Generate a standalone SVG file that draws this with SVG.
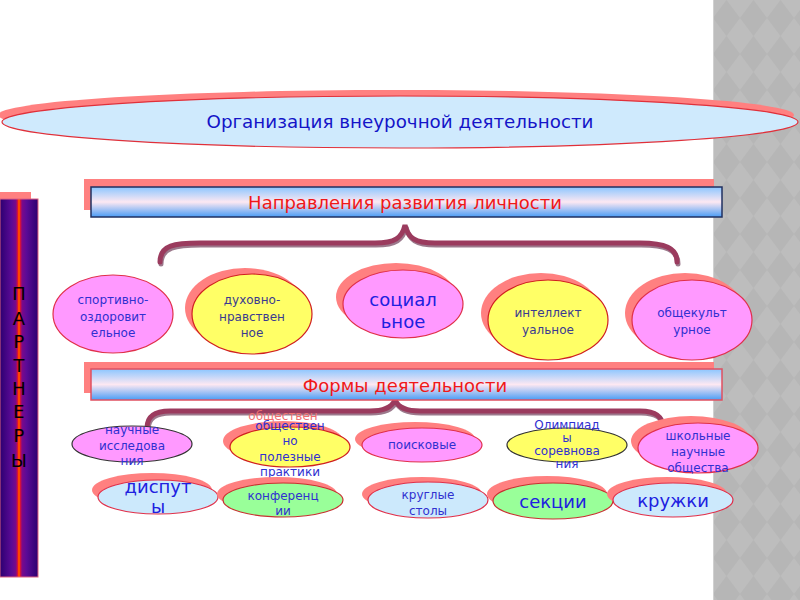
<svg xmlns="http://www.w3.org/2000/svg" width="800" height="600" viewBox="0 0 800 600">
<style>
.sh{fill:#ff8080}
.pk{fill:#ff99ff;stroke:#e0304a;stroke-width:1.2}
.pkd{fill:#ff99ff;stroke:#333;stroke-width:1.2}
.yl{fill:#ffff66;stroke:#d02020;stroke-width:1.2}
.yld{fill:#ffff66;stroke:#333;stroke-width:1.2}
.lb{fill:#cce9fc;stroke:#e0304a;stroke-width:1.2}
.gr{fill:#99ff99;stroke:#c83030;stroke-width:1.2}
text{font-family:"DejaVu Sans","Liberation Sans",sans-serif;text-anchor:middle}
.t{font-size:12px;fill:#3030d0}
.td{font-size:12px;fill:#3a3a90}
.tb{font-size:18px;fill:#2020e0}
.hd{font-size:18px;fill:#f01818}
.brace{fill:none;stroke:#9b3b5e;stroke-width:5;stroke-linecap:round}
.braceS{fill:none;stroke:#5a2040;stroke-width:5;stroke-linecap:round;opacity:0.6}
</style>
<defs>
<pattern id="harl" x="713" y="0" width="27" height="36" patternUnits="userSpaceOnUse">
<rect width="27" height="36" fill="#bdbdbd"/>
<polygon points="13.5,0 27,18 13.5,36 0,18" fill="#b6b6b6"/>
</pattern>
<linearGradient id="hg" x1="0" y1="0" x2="0" y2="1">
<stop offset="0" stop-color="#8cc6ff"/>
<stop offset="0.5" stop-color="#fde8f2"/>
<stop offset="1" stop-color="#4a9cf5"/>
</linearGradient>
<linearGradient id="bar" x1="0" y1="0" x2="1" y2="0">
<stop offset="0" stop-color="#2c0070"/>
<stop offset="0.3" stop-color="#5a0a96"/>
<stop offset="0.42" stop-color="#7a0a8a"/>
<stop offset="0.46" stop-color="#d01040"/>
<stop offset="0.48" stop-color="#ff2a00"/>
<stop offset="0.5" stop-color="#ff7a00"/>
<stop offset="0.52" stop-color="#ff2a00"/>
<stop offset="0.54" stop-color="#d01040"/>
<stop offset="0.58" stop-color="#7a0a8a"/>
<stop offset="0.7" stop-color="#5a0a96"/>
<stop offset="1" stop-color="#2c0070"/>
</linearGradient>
</defs>

<rect width="800" height="600" fill="#ffffff"/>
<rect x="713" y="0" width="87" height="600" fill="url(#harl)"/>
<line x1="713.5" y1="0" x2="713.5" y2="600" stroke="#d0d0d0" stroke-width="1"/>

<g id="title">
<ellipse class="sh" cx="396" cy="115" rx="398" ry="25"/>
<ellipse cx="400" cy="122" rx="398" ry="26" fill="#cfeafd" stroke="#e0303a" stroke-width="1.2"/>
<text x="400" y="128" font-size="18" fill="#1414c8" textLength="387" lengthAdjust="spacingAndGlyphs">Организация внеурочной деятельности</text>
</g>

<g id="partners">
<rect x="0" y="192" width="31" height="10" fill="#ff8080"/>
<rect x="0" y="199" width="38" height="378" fill="url(#bar)" stroke="#e06080" stroke-width="1"/>
<g font-size="18" fill="#000">
<text x="19" y="300">П</text>
<text x="19" y="325">А</text>
<text x="19" y="348">Р</text>
<text x="19" y="372">Т</text>
<text x="19" y="395">Н</text>
<text x="19" y="418">Е</text>
<text x="19" y="442">Р</text>
<text x="19" y="467">Ы</text>
</g>
</g>

<g id="connectors">
<path class="braceS" d="M161,264 C161,247 176,245 201,245 L376,245 C396,245 403,240 406,227 C409,240 416,245 436,245 L641,245 C666,245 678,250 678,264"/>
<path class="brace" d="M160,262 C160,245 175,243 200,243 L375,243 C395,243 402,238 405,225 C408,238 415,243 435,243 L640,243 C665,243 677,248 677,262"/>
<path class="braceS" d="M148,430 C148,418 156,413 171,413 L371,413 C386,413 393,409 396,402 C399,409 406,413 421,413 L641,413 C656,413 664,418 664,430"/>
<path class="brace" d="M147,428 C147,416 155,411 170,411 L370,411 C385,411 392,407 395,400 C398,407 405,411 420,411 L640,411 C655,411 663,416 663,428"/>
</g>

<g id="header1">
<rect x="84" y="179" width="630" height="31" fill="#ff8080"/>
<rect x="91" y="187" width="631" height="30" fill="url(#hg)" stroke="#203060" stroke-width="1.5"/>
<text class="hd" x="405" y="209">Направления развития личности</text>
</g>

<g id="header2">
<rect x="84" y="362" width="630" height="31" fill="#ff8080"/>
<rect x="91" y="369" width="631" height="31" fill="url(#hg)" stroke="#e05060" stroke-width="1.5"/>
<text class="hd" x="405" y="392" font-size="19">Формы деятельности</text>
</g>

<g id="n-sport">
<ellipse class="pk" cx="113" cy="314" rx="60" ry="39"/>
<text class="t" x="113" y="304">спортивно-</text>
<text class="t" x="113" y="321">оздоровит</text>
<text class="t" x="113" y="337">ельное</text>
</g>
<g id="n-duh">
<ellipse class="sh" cx="245" cy="308" rx="60" ry="40"/>
<ellipse class="yl" cx="252" cy="314" rx="60" ry="40"/>
<text class="td" x="252" y="304">духовно-</text>
<text class="td" x="252" y="321">нравствен</text>
<text class="td" x="252" y="337">ное</text>
</g>
<g id="n-soc">
<ellipse class="sh" cx="396" cy="297" rx="60" ry="34"/>
<ellipse class="pk" cx="403" cy="304" rx="60" ry="34"/>
<text class="tb" x="403" y="306">социал</text>
<text class="tb" x="403" y="328">ьное</text>
</g>
<g id="n-int">
<ellipse class="sh" cx="541" cy="313" rx="60" ry="40"/>
<ellipse class="yl" cx="548" cy="320" rx="60" ry="40"/>
<text class="td" x="548" y="317">интеллект</text>
<text class="td" x="548" y="334">уальное</text>
</g>
<g id="n-obsh">
<ellipse class="sh" cx="685" cy="313" rx="60" ry="40"/>
<ellipse class="pk" cx="692" cy="320" rx="60" ry="40"/>
<text class="t" x="692" y="317">общекульт</text>
<text class="t" x="692" y="334">урное</text>
</g>

<g id="f-nauch">
<ellipse class="pkd" cx="132" cy="444" rx="60" ry="18"/>
<text class="t" x="132" y="434">научные</text>
<text class="t" x="132" y="450">исследова</text>
<text class="t" x="132" y="465">ния</text>
</g>
<g id="f-obshpol">
<ellipse class="sh" cx="283" cy="441" rx="60" ry="20"/>
<text x="283" y="420" font-size="12" fill="#f07070">обществен</text>
<ellipse class="yl" cx="290" cy="447" rx="60" ry="20"/>
<text class="t" x="290" y="430">обществен</text>
<text class="t" x="290" y="445">но</text>
<text class="t" x="290" y="461">полезные</text>
<text class="t" x="290" y="476">практики</text>
</g>
<g id="f-poisk">
<ellipse class="sh" cx="415" cy="439" rx="60" ry="17"/>
<ellipse class="pk" cx="422" cy="445" rx="60" ry="17"/>
<text class="t" x="422" y="449">поисковые</text>
</g>
<g id="f-olymp">
<ellipse class="yld" cx="567" cy="445" rx="60" ry="17"/>
<text class="t" x="567" y="429">Олимпиад</text>
<text class="t" x="567" y="442">ы</text>
<text class="t" x="567" y="455">соревнова</text>
<text class="t" x="567" y="468">ния</text>
</g>
<g id="f-school">
<ellipse class="sh" cx="691" cy="441" rx="60" ry="25"/>
<ellipse class="pk" cx="698" cy="448" rx="60" ry="25"/>
<text class="t" x="698" y="440">школьные</text>
<text class="t" x="698" y="456">научные</text>
<text class="t" x="698" y="472">общества</text>
</g>

<g id="f-disput">
<ellipse class="sh" cx="152" cy="490" rx="60" ry="17"/>
<ellipse class="lb" cx="158" cy="497" rx="60" ry="17"/>
<text class="tb" x="158" y="493" font-size="17">диспут</text>
<text class="tb" x="158" y="513" font-size="17">ы</text>
</g>
<g id="f-konf">
<ellipse class="sh" cx="277" cy="494" rx="60" ry="17"/>
<ellipse class="gr" cx="283" cy="500" rx="60" ry="17"/>
<text class="t" x="283" y="500">конференц</text>
<text class="t" x="283" y="515">ии</text>
</g>
<g id="f-krug">
<ellipse class="sh" cx="422" cy="494" rx="60" ry="17"/>
<ellipse class="lb" cx="428" cy="500" rx="60" ry="18"/>
<text class="t" x="428" y="499">круглые</text>
<text class="t" x="428" y="515">столы</text>
</g>
<g id="f-sekc">
<ellipse class="sh" cx="547" cy="494" rx="60" ry="18"/>
<ellipse class="gr" cx="553" cy="501" rx="60" ry="18"/>
<text class="tb" x="553" y="508">секции</text>
</g>
<g id="f-kruzh">
<ellipse class="sh" cx="667" cy="494" rx="60" ry="17"/>
<ellipse class="lb" cx="673" cy="500" rx="60" ry="17"/>
<text class="tb" x="673" y="507">кружки</text>
</g>
</svg>
